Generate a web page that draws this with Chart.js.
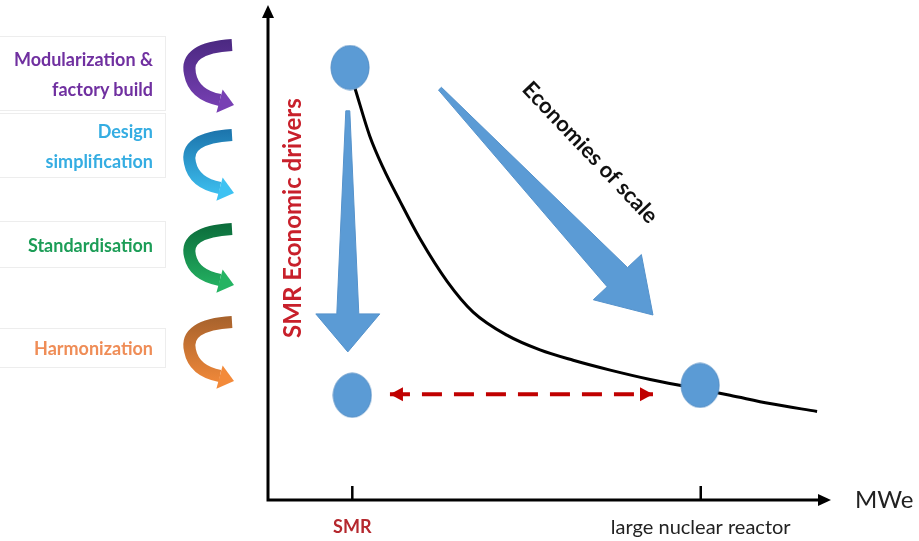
<!DOCTYPE html>
<html>
<head>
<meta charset="utf-8">
<script src="https://cdn.jsdelivr.net/npm/chart.js@4.4.0/dist/chart.umd.min.js"></script>
<style>
html, body { margin: 0; padding: 0; background: #fff; }
#wrap { position: relative; width: 919px; height: 541px; overflow: hidden; }
#chart { position: absolute; left: 0; top: 0; }
.box {
    position: absolute; left: 0; width: 166px; box-sizing: border-box;
    border: 1px solid #ededed; border-left: none;
    display: flex; flex-direction: column; justify-content: center; align-items: flex-end;
    padding-right: 12px; font-family: Lato, sans-serif; font-weight: bold; font-size: 18px; line-height: 30px;
}
</style>
</head>
<body>
<div id="wrap">
    <canvas id="chart" width="919" height="541"></canvas>
</div>
<script>
// Data (x: MWe scale 0-100, y: cost scale 0-100)
const tickValues = [15, 77];
const tickLabels = ['SMR', 'large nuclear reactor'];
const curveX = [15.5, 18.1, 20.5, 23.5, 27.0, 31.9, 36.5, 42.5, 48.4, 54.3, 60.9, 68.0, 75.1, 82.2, 89.3, 97.7];
const curveY = [83.6, 74.0, 67.5, 60.7, 53.2, 44.4, 38.2, 33.5, 30.5, 28.4, 26.4, 24.5, 22.9, 21.3, 19.6, 18.0];
const reactorX = [14.6, 15.0, 76.9];
const reactorY = [87.9, 21.3, 23.3];
const gapX = [21.7, 68.5];
const gapY = [21.5, 21.5];
const driverArrowX = [14.2, 14.2];
const driverArrowY = [79.1, 30.1];
const scaleArrowX = [30.6, 68.5];
const scaleArrowY = [83.6, 37.6];
const driverLabels = [['Modularization &', 'factory build'], ['Design', 'simplification'], ['Standardisation'], ['Harmonization']];

// Styles / layout
const driverColors = ['#7030a0', '#35ade2', '#1c9d57', '#ef8d57'];
const driverGrad = [['#4a2880', '#7840b4'], ['#1b72aa', '#3ec2f2'], ['#0b6a3a', '#25b463'], ['#a5612c', '#f38a3a']];
const driverBoxes = [[36, 75], [113, 65], [221, 47], [328, 40]];
const driverArrows = [[38, 110], [128, 198], [222, 290], [315, 386]];
const blue = '#5b9bd5';
const darkRed = '#c00000';

// Kotak label kiri
driverLabels.forEach(function(lines, i) {
    let d = document.createElement('div');
    d.className = 'box';
    d.style.top = driverBoxes[i][0] + 'px';
    d.style.height = driverBoxes[i][1] + 'px';
    d.style.color = driverColors[i];
    lines.forEach(function(t) {
        let s = document.createElement('span');
        s.textContent = t;
        d.appendChild(s);
    });
    document.getElementById('wrap').appendChild(d);
});

// Titik elips
function makeEllipse() {
    const c = document.createElement('canvas');
    c.width = 40; c.height = 46;
    const g = c.getContext('2d');
    g.beginPath();
    g.ellipse(20, 23, 19, 22, 0, 0, Math.PI * 2);
    g.fillStyle = blue;
    g.fill();
    g.lineWidth = 1;
    g.strokeStyle = '#4f8bc4';
    g.stroke();
    return c;
}
const ellipse = makeEllipse();

function toPoints(xs, ys) {
    return xs.map((x, i) => ({x: x, y: ys[i]}));
}

function px(chart, x, y) {
    return [chart.scales.x.getPixelForValue(x), chart.scales.y.getPixelForValue(y)];
}

// Panah biru meruncing
function taperArrow(ctx, s, t, startHalf, endHalf, headLen, headHalf) {
    const dx = t[0] - s[0], dy = t[1] - s[1];
    const len = Math.hypot(dx, dy);
    const ux = dx / len, uy = dy / len;
    const nx = -uy, ny = ux;
    const bx = t[0] - ux * headLen, by = t[1] - uy * headLen;
    ctx.beginPath();
    ctx.moveTo(s[0] + nx * startHalf, s[1] + ny * startHalf);
    ctx.lineTo(bx + nx * endHalf, by + ny * endHalf);
    ctx.lineTo(bx + nx * headHalf, by + ny * headHalf);
    ctx.lineTo(t[0], t[1]);
    ctx.lineTo(bx - nx * headHalf, by - ny * headHalf);
    ctx.lineTo(bx - nx * endHalf, by - ny * endHalf);
    ctx.lineTo(s[0] - nx * startHalf, s[1] - ny * startHalf);
    ctx.closePath();
    ctx.fillStyle = blue;
    ctx.fill();
    ctx.lineWidth = 1;
    ctx.strokeStyle = '#5592cb';
    ctx.stroke();
}

function triangle(ctx, tip, dir, len, half, color) {
    const nx = -dir[1], ny = dir[0];
    const bx = tip[0] - dir[0] * len, by = tip[1] - dir[1] * len;
    ctx.beginPath();
    ctx.moveTo(tip[0], tip[1]);
    ctx.lineTo(bx + nx * half, by + ny * half);
    ctx.lineTo(bx - nx * half, by - ny * half);
    ctx.closePath();
    ctx.fillStyle = color;
    ctx.fill();
}

const diagramPlugin = {
    id: 'diagram',
    beforeDatasetsDraw(chart) {
        const ctx = chart.ctx;
        const a = chart.chartArea;
        ctx.save();
        // sumbu
        ctx.strokeStyle = '#000';
        ctx.lineWidth = 3;
        ctx.beginPath();
        ctx.moveTo(a.left, a.bottom + 1.5);
        ctx.lineTo(a.left, a.top + 8);
        ctx.moveTo(a.left - 1.5, a.bottom);
        ctx.lineTo(a.right - 8, a.bottom);
        ctx.stroke();
        triangle(ctx, [a.left, a.top - 3], [0, -1], 13, 6, '#000');
        triangle(ctx, [a.right + 1, a.bottom], [1, 0], 13, 6, '#000');
        // tanda tick
        ctx.lineWidth = 2.5;
        tickValues.forEach(function(v) {
            const x = chart.scales.x.getPixelForValue(v);
            ctx.beginPath();
            ctx.moveTo(x, a.bottom - 14);
            ctx.lineTo(x, a.bottom);
            ctx.stroke();
        });
        ctx.fillStyle = '#222';
        ctx.font = '24px Lato, sans-serif';
        ctx.textAlign = 'left';
        ctx.textBaseline = 'middle';
        ctx.fillText('MWe', a.right + 25, a.bottom);
        // panah lengkung kiri
        driverArrows.forEach(function(r, i) {
            const T = r[0], B = r[1], M = (T + B) / 2;
            const grad = ctx.createLinearGradient(0, T, 0, B);
            grad.addColorStop(0, driverGrad[i][0]);
            grad.addColorStop(1, driverGrad[i][1]);
            ctx.beginPath();
            ctx.moveTo(232, T + 7);
            ctx.quadraticCurveTo(184, T + 10, 190, M);
            ctx.quadraticCurveTo(194, B - 15, 220, B - 10);
            ctx.lineWidth = 12;
            ctx.lineCap = 'butt';
            ctx.strokeStyle = grad;
            ctx.stroke();
            const dx = 26, dy = 7, l = Math.hypot(dx, dy);
            triangle(ctx, [234, B - 5], [dx / l, dy / l], 15, 12, driverGrad[i][1]);
        });
        ctx.restore();
    },
    afterDatasetsDraw(chart) {
        const ctx = chart.ctx;
        ctx.save();
        // panah biru
        taperArrow(ctx, px(chart, driverArrowX[0], driverArrowY[0]), px(chart, driverArrowX[1], driverArrowY[1]), 2, 11, 38, 32);
        taperArrow(ctx, px(chart, scaleArrowX[0], scaleArrowY[0]), px(chart, scaleArrowX[1], scaleArrowY[1]), 2, 14, 52, 33);
        // ujung panah merah
        const l = px(chart, gapX[0], gapY[0]);
        const r = px(chart, gapX[1], gapY[1]);
        triangle(ctx, l, [-1, 0], 13, 7, darkRed);
        triangle(ctx, r, [1, 0], 13, 7, darkRed);
        // teks miring
        let p = px(chart, 4.5, 57.3);
        ctx.translate(p[0], p[1]);
        ctx.rotate(-Math.PI / 2);
        ctx.fillStyle = '#c8202b';
        ctx.font = 'bold 24px Lato, sans-serif';
        ctx.textAlign = 'center';
        ctx.textBaseline = 'middle';
        ctx.fillText('SMR Economic drivers', 0, 0);
        ctx.setTransform(1, 0, 0, 1, 0, 0);
        ctx.scale(chart.currentDevicePixelRatio, chart.currentDevicePixelRatio);
        p = px(chart, 57.3, 70.6);
        ctx.translate(p[0], p[1]);
        ctx.rotate(46.5 * Math.PI / 180);
        ctx.fillStyle = '#111';
        ctx.font = 'bold 22px Lato, sans-serif';
        ctx.fillText('Economies of scale', 0, 0);
        ctx.restore();
    }
};

new Chart(document.getElementById('chart'), {
    type: 'line',
    data: {
        datasets: [
            {
                data: toPoints(reactorX, reactorY),
                showLine: false,
                pointStyle: ellipse,
                order: 0
            },
            {
                data: toPoints(curveX, curveY),
                borderColor: '#000',
                borderWidth: 3,
                pointRadius: 0,
                cubicInterpolationMode: 'monotone',
                order: 1
            },
            {
                data: toPoints(gapX, gapY),
                borderColor: darkRed,
                borderWidth: 4,
                borderDash: [20, 12],
                pointRadius: 0,
                order: 2
            }
        ]
    },
    options: {
        responsive: false,
        animation: false,
        events: [],
        layout: { padding: { left: 268, right: 89, top: 8, bottom: -15 } },
        plugins: { legend: { display: false }, tooltip: { enabled: false } },
        scales: {
            x: {
                type: 'linear', min: 0, max: 100,
                grid: { display: false, drawTicks: false },
                border: { display: false },
                afterBuildTicks: function(scale) {
                    scale.ticks = tickValues.map(v => ({ value: v }));
                },
                ticks: {
                    autoSkip: false, maxRotation: 0, padding: 16,
                    callback: (v, i) => tickLabels[i],
                    color: (c) => c.index === 0 ? '#b5282e' : '#222',
                    font: (c) => c.index === 0
                        ? { family: 'Lato', size: 18, weight: 'bold' }
                        : { family: 'Lato', size: 20, weight: 'normal' }
                }
            },
            y: { type: 'linear', min: 0, max: 100, display: false }
        }
    },
    plugins: [diagramPlugin]
});
</script>
</body>
</html>
